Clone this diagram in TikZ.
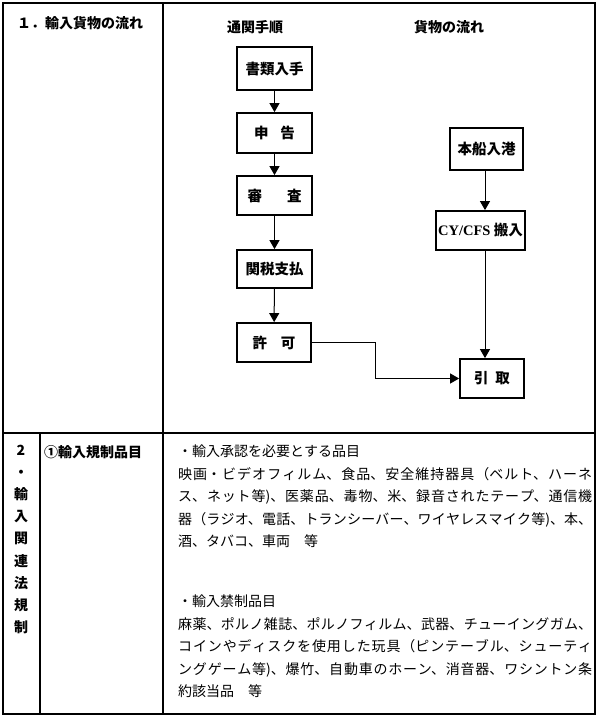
\documentclass[tikz,border=0pt]{standalone}
\usepackage{fontspec}
\setmainfont{Noto Sans CJK JP}
\newfontfamily\latinserif{Liberation Serif}
\XeTeXlinebreaklocale "ja"
\XeTeXlinebreakskip=0pt plus 2pt
\usetikzlibrary{arrows.meta}

\begin{document}
\begin{tikzpicture}[x=1pt,y=-1pt,procbox/.style={draw,line width=1.8pt,minimum width=75pt,minimum height=40pt,inner sep=2pt,font=\bfseries\fontsize{14.5}{16}\selectfont},flow/.style={line width=1pt,-{Triangle[length=9pt,width=10pt]}},rule/.style={line width=1.4pt},head/.style={font=\bfseries\fontsize{14}{16}\selectfont,inner sep=0pt},body/.style={font=\fontsize{14}{22.5}\selectfont,inner sep=0pt}]
\useasboundingbox (0,0) rectangle (600,720);
% table frame
\draw[rule] (3,3) rectangle (595,714);
\draw[rule] (163,3) -- (163,714);
\draw[line width=1.8pt] (3,433) -- (595,433);
\draw[rule] (40,433) -- (40,714);
% headings
\node[head,anchor=west] (title) at (17,23) {１．輸入貨物の流れ};
\node[head] (hdrcustoms) at (255,27) {通関手順};
\node[head] (hdrcargo) at (449,27) {貨物の流れ};
% customs procedure
\node[procbox,minimum height=43pt] (docs) at (274.5,68.5) {書類入手};
\node[procbox] (declare) at (274.5,133) {申\hspace{12pt}告};
\node[procbox,minimum height=39pt] (examine) at (274.5,195.5) {審\hspace{25pt}査};
\node[procbox,minimum height=38pt] (duty) at (274.5,269) {関税支払};
\node[procbox,minimum width=74pt,minimum height=39pt] (permit) at (274,342.5) {許\hspace{14pt}可};
% cargo flow
\node[procbox,minimum width=73pt,minimum height=42pt] (arrival) at (486.5,149) {本船入港};
\node[procbox,minimum width=89pt,minimum height=39pt] (cyin) at (480.5,230.5) {{\latinserif CY/CFS} 搬入};
\node[procbox,minimum width=64pt,minimum height=39pt] (pickup) at (492,378.5) {引\hspace{7pt}取};
\coordinate (cargox) at (485,0);
\draw[flow] (docs) -- (declare);
\draw[flow] (declare) -- (examine);
\draw[flow] (examine) -- (duty);
\draw[flow] (duty) -- (permit);
\draw[flow] (arrival.south -| cargox) -- (cyin.north -| cargox);
\draw[flow] (cyin.south -| cargox) -- (pickup.north -| cargox);
\draw[flow] (permit.east) -- ++(64,0) |- (pickup.west);
% regulations
\node[head,anchor=north,align=center,font=\bfseries\fontsize{14}{22.1}\selectfont] (rowlabel) at (21,445) {2\\・\\輸\\入\\関\\連\\法\\規\\制};
\node[head,anchor=north west] (restricted) at (44,445) {①輸入規制品目};
\node[body,anchor=north west,text width=414pt,align=justify] (approval) at (178,445) {・輸入承認を必要とする品目\\映画・ビデオフィルム、食品、安全維持器具（ベルト、ハーネ\linebreak ス、ネット等)、医薬品、毒物、米、録音されたテープ、通信機\linebreak 器（ラジオ、電話、トランシーバー、ワイヤレスマイク等)、本、\linebreak 酒、タバコ、車両　等};
\node[body,anchor=north west,text width=414pt,align=justify] (banned) at (178,595) {・輸入禁制品目\\麻薬、ポルノ雑誌、ポルノフィルム、武器、チューイングガム、\linebreak コインやディスクを使用した玩具（ピンテーブル、シューティ\linebreak ングゲーム等)、爆竹、自動車のホーン、消音器、ワシントン条\linebreak 約該当品　等};
\end{tikzpicture}
\end{document}
